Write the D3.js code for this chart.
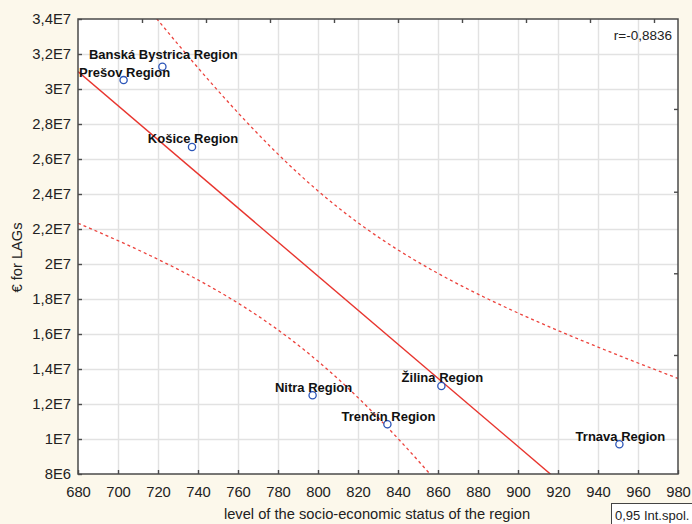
<!DOCTYPE html>
<html>
<head>
<meta charset="utf-8">
<script src="https://cdn.jsdelivr.net/npm/d3@7"></script>
<style>
  html, body { margin: 0; padding: 0; background: #fcf8eb; }
  svg { display: block; font-family: "Liberation Sans", Arial, sans-serif; }
  .grid line { stroke: #e2e2e2; stroke-width: 1.4; }
  .grid path { display: none; }
  .tick-label { font-size: 14.8px; fill: #222; }
  .point-label { font-size: 13px; font-weight: bold; fill: #111; }
</style>
</head>
<body>
<svg id="chart" width="692" height="524"></svg>
<script>
// data
const regions = ["Banská Bystrica Region", "Prešov Region", "Košice Region", "Nitra Region", "Trenčín Region", "Žilina Region", "Trnava Region"];
const status = [722.2, 702.8, 737, 797.3, 834.7, 861.7, 950.7];
const funds = [3.127e7, 3.051e7, 2.669e7, 1.25e7, 1.084e7, 1.303e7, 9.7e6];

const xTicks = d3.range(680, 981, 20);
const yTicks = d3.range(8e6, 3.4e7 + 1, 2e6);
// unlabeled minor ticks on the top / right frame
const topTicks = d3.range(712, 980, 32);
const rightTicks = [2.886e7, 2.413e7, 1.947e7, 1.48e7];

const corrLabel = "r=-0,8836";
const legendLabel = "0,95 Int.spol.";
const xTitle = "level of the socio-economic status of the region";
const yTitle = "€ for LAGs";

const width = 692;
const height = 524;
const margin = { top: 19, right: 14, bottom: 50, left: 78 };
const innerW = width - margin.left - margin.right;
const innerH = height - margin.top - margin.bottom;

const svg = d3.select("#chart");
const x = d3.scaleLinear().domain([680, 980]).range([0, innerW]);
const y = d3.scaleLinear().domain([8e6, 3.4e7]).range([innerH, 0]);

function formatE(v) {
	const exp = Math.floor(Math.log10(v) + 1e-9);
	const mant = Math.round((v / Math.pow(10, exp)) * 10) / 10;
	return `${String(mant).replace(".", ",")}E${exp}`;
}

// linear fit + 95% confidence band for the mean
const n = status.length;
const mx = d3.mean(status);
const my = d3.mean(funds);
const sxx = d3.sum(status, (v) => (v - mx) ** 2);
const sxy = d3.sum(status, (v, i) => (v - mx) * (funds[i] - my));
const slope = sxy / sxx;
const intercept = my - slope * mx;
const sse = d3.sum(status, (v, i) => (funds[i] - (intercept + slope * v)) ** 2);
const s = Math.sqrt(sse / (n - 2));
const tCrit = 2.5706; // t(0.975, df = 5)
const fit = (v) => intercept + slope * v;
const halfWidth = (v) => tCrit * s * Math.sqrt(1 / n + (v - mx) ** 2 / sxx);
const samples = d3.range(680, 980.01, 2);

svg.append("rect").attr("width", width).attr("height", height).attr("fill", "#fcf8eb");

const g = svg.append("g").attr("transform", `translate(${margin.left},${margin.top})`);
g.append("rect").attr("width", innerW).attr("height", innerH).attr("fill", "#fff");

svg.append("defs").append("clipPath").attr("id", "plotClip")
	.append("rect").attr("width", innerW).attr("height", innerH);

// grid
g.append("g").attr("class", "grid")
	.call(d3.axisBottom(x).tickValues(xTicks).tickSize(innerH).tickFormat(""))
	.call((a) => a.selectAll(".tick line").filter((d) => d === 680 || d === 980).remove());
g.append("g").attr("class", "grid")
	.call(d3.axisLeft(y).tickValues(yTicks).tickSize(-innerW).tickFormat(""))
	.call((a) => a.selectAll(".tick line").filter((d) => d === 8e6 || d === 3.4e7).remove());

// fit lines
const plot = g.append("g").attr("clip-path", "url(#plotClip)");
plot.append("path")
	.attr("d", d3.line().x((v) => x(v)).y((v) => y(fit(v)))([680, 980]))
	.attr("fill", "none").attr("stroke", "#e8352e").attr("stroke-width", 1.4);
[1, -1].forEach((sign) => {
	plot.append("path")
		.attr("d", d3.line().x((v) => x(v)).y((v) => y(fit(v) + sign * halfWidth(v)))(samples))
		.attr("fill", "none").attr("stroke", "#ec433d").attr("stroke-width", 1.3)
		.attr("stroke-dasharray", "3,3");
});

// points
g.selectAll("circle.pt").data(regions).join("circle")
	.attr("class", "pt")
	.attr("cx", (d, i) => x(status[i]))
	.attr("cy", (d, i) => y(funds[i]))
	.attr("r", 3.6)
	.attr("fill", "#fff").attr("stroke", "#2c55b8").attr("stroke-width", 1.3);

const labelLift = { "Banská Bystrica Region": 7.5 };
g.selectAll("text.point-label").data(regions).join("text")
	.attr("class", "point-label")
	.attr("x", (d, i) => x(status[i]) + 1)
	.attr("y", (d, i) => y(funds[i]) - (labelLift[d] || 3.5))
	.attr("text-anchor", "middle")
	.text((d) => d);

// frame
g.append("rect").attr("width", innerW).attr("height", innerH)
	.attr("fill", "none").attr("stroke", "#4a4a4a").attr("stroke-width", 1.5);

// axes
const xAxis = g.append("g").attr("transform", `translate(0,${innerH})`)
	.call(d3.axisBottom(x).tickValues(xTicks).tickSize(-4).tickPadding(12).tickFormat(d3.format("d")));
const yAxis = g.append("g")
	.call(d3.axisLeft(y).tickValues(yTicks).tickSize(-4).tickPadding(7).tickFormat(formatE));
g.append("g")
	.call(d3.axisTop(x).tickValues(topTicks).tickSize(-4).tickFormat(""));
g.append("g").attr("transform", `translate(${innerW},0)`)
	.call(d3.axisRight(y).tickValues(rightTicks).tickSize(-4).tickFormat(""));
g.selectAll(".domain").remove();
g.selectAll(".tick line").filter(function () { return !this.closest(".grid"); })
	.attr("stroke", "#4a4a4a").attr("stroke-width", 1.4);
xAxis.selectAll("text").attr("class", "tick-label").attr("font-family", null).attr("font-size", null);
yAxis.selectAll("text").attr("class", "tick-label").attr("font-family", null).attr("font-size", null);

// correlation label
g.append("text")
	.attr("x", innerW - 6).attr("y", 21)
	.attr("text-anchor", "end")
	.attr("font-size", 13.5).attr("fill", "#222")
	.text(corrLabel);

// axis titles
svg.append("text")
	.attr("x", margin.left + innerW / 2 - 1).attr("y", 519)
	.attr("text-anchor", "middle").attr("font-size", 14.7).attr("fill", "#222")
	.text(xTitle);
svg.append("text")
	.attr("transform", `translate(22,${margin.top + innerH / 2 + 11}) rotate(-90)`)
	.attr("text-anchor", "middle").attr("font-size", 14.7).attr("fill", "#222")
	.text(yTitle);

// legend box
svg.append("rect")
	.attr("x", 611.5).attr("y", 503.5).attr("width", 90).attr("height", 24)
	.attr("fill", "#fff").attr("stroke", "#444").attr("stroke-width", 1);
svg.append("text")
	.attr("x", 615).attr("y", 519.5)
	.attr("font-size", 13).attr("fill", "#222")
	.text(legendLabel);
</script>
</body>
</html>
